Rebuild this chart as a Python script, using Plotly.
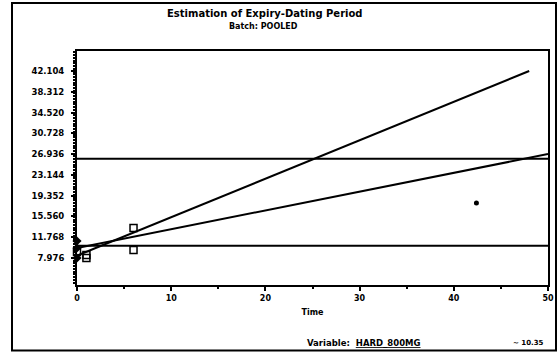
import plotly.graph_objects as go

# ---- data ----
y_ticks = [7.976, 11.768, 15.560, 19.352, 23.144, 26.936, 30.728, 34.520, 38.312, 42.104]
x_ticks = [0, 10, 20, 30, 40, 50]

# observed values (time in months, hardness)
obs_time_diamond = [0, 0, 0]
obs_val_diamond = [7.976, 9.80, 11.08]
obs_time_square = [0, 1, 1, 6, 6]
obs_val_square = [9.07, 8.52, 7.98, 13.45, 9.43]
stray_time = [42.4]
stray_val = [18.0]

# fitted lines (end points)
steep_time = [0, 48]
steep_val = [8.4, 42.104]
shallow_time = [0, 50]
shallow_val = [9.8, 26.95]

# horizontal limit lines
upper_limit = 26.1
lower_limit = 10.2

title_text = "Estimation of Expiry-Dating Period"
subtitle_text = "Batch: POOLED"

BLACK = "black"
FONT = "DejaVu Sans"

fig = go.Figure()
fig.add_trace(go.Scatter(x=steep_time, y=steep_val, mode="lines",
                         line=dict(color=BLACK, width=2), cliponaxis=False))
fig.add_trace(go.Scatter(x=shallow_time, y=shallow_val, mode="lines",
                         line=dict(color=BLACK, width=2), cliponaxis=False))
fig.add_trace(go.Scatter(x=obs_time_diamond, y=obs_val_diamond, mode="markers",
                         marker=dict(symbol="diamond", size=7, color=BLACK),
                         cliponaxis=False))
fig.add_trace(go.Scatter(x=obs_time_square, y=obs_val_square, mode="markers",
                         marker=dict(symbol="square-open", size=7, color=BLACK,
                                     line=dict(width=1.5, color=BLACK)),
                         cliponaxis=False))
fig.add_trace(go.Scatter(x=stray_time, y=stray_val, mode="markers",
                         marker=dict(symbol="circle", size=5, color=BLACK),
                         cliponaxis=False))

fig.add_hline(y=upper_limit, line=dict(color=BLACK, width=2))
fig.add_hline(y=lower_limit, line=dict(color=BLACK, width=2))

# outer frame (plot area spans x 77..548 px, y 51..285 px)
fig.add_shape(type="rect", xref="paper", yref="paper",
              x0=-0.138, x1=1.017, y0=-0.28, y1=1.205,
              line=dict(color=BLACK, width=2), fillcolor="rgba(0,0,0,0)")

fig.update_layout(
    width=559, height=356,
    margin=dict(l=77, r=11, t=51, b=71, autoexpand=False),
    paper_bgcolor="white", plot_bgcolor="white",
    showlegend=False,
    font=dict(family=FONT, color=BLACK, size=8, weight="bold"),
    xaxis=dict(range=[0, 50], tickvals=x_ticks, ticktext=[str(v) for v in x_ticks],
               automargin=False,
               showgrid=False, zeroline=False, showline=True, mirror=True,
               linecolor=BLACK, linewidth=2, ticks="outside", ticklen=4,
               tickcolor=BLACK, tickwidth=1.5,
               minor=dict(ticks="outside", ticklen=2, dtick=5, tickcolor=BLACK),
               tickfont=dict(size=8, family=FONT, weight="bold"),
               title=dict(text="Time", standoff=8,
                          font=dict(size=8, family=FONT, weight="bold"))),
    yaxis=dict(range=[3.05, 45.75], tickvals=y_ticks,
               ticktext=[f"{v:.3f}" for v in y_ticks],
               automargin=False, ticklabelstandoff=5,
               showgrid=False, zeroline=False, showline=True, mirror=True,
               linecolor=BLACK, linewidth=2, ticks="outside", ticklen=4,
               tickcolor=BLACK, tickwidth=1.5,
               minor=dict(ticks="outside", ticklen=2, tickcolor=BLACK, nticks=20),
               tickfont=dict(size=8.5, family=FONT, weight="bold")),
)

fig.add_annotation(xref="paper", yref="paper", x=0.399, y=1.162,
                   text=title_text, showarrow=False,
                   xanchor="center", yanchor="middle",
                   font=dict(size=10, family=FONT, weight="bold", color=BLACK))
fig.add_annotation(xref="paper", yref="paper", x=0.395, y=1.103,
                   text=subtitle_text, showarrow=False,
                   xanchor="center", yanchor="middle",
                   font=dict(size=8, family=FONT, weight="bold", color=BLACK))
fig.add_annotation(xref="paper", yref="paper", x=0.484, y=-0.248,
                   text="Variable:  <u>HARD_800MG</u>", showarrow=False,
                   xanchor="left", yanchor="middle",
                   font=dict(size=8.5, family=FONT, weight="bold", color=BLACK))
fig.add_annotation(xref="paper", yref="paper", x=0.995, y=-0.248,
                   text="~ 10.35", showarrow=False,
                   xanchor="right", yanchor="middle",
                   font=dict(size=7, family=FONT, weight="bold", color=BLACK))

fig.write_html("out.html", config={"displayModeBar": False},
               post_script="document.body.style.margin='0px';document.body.style.overflow='hidden';")
